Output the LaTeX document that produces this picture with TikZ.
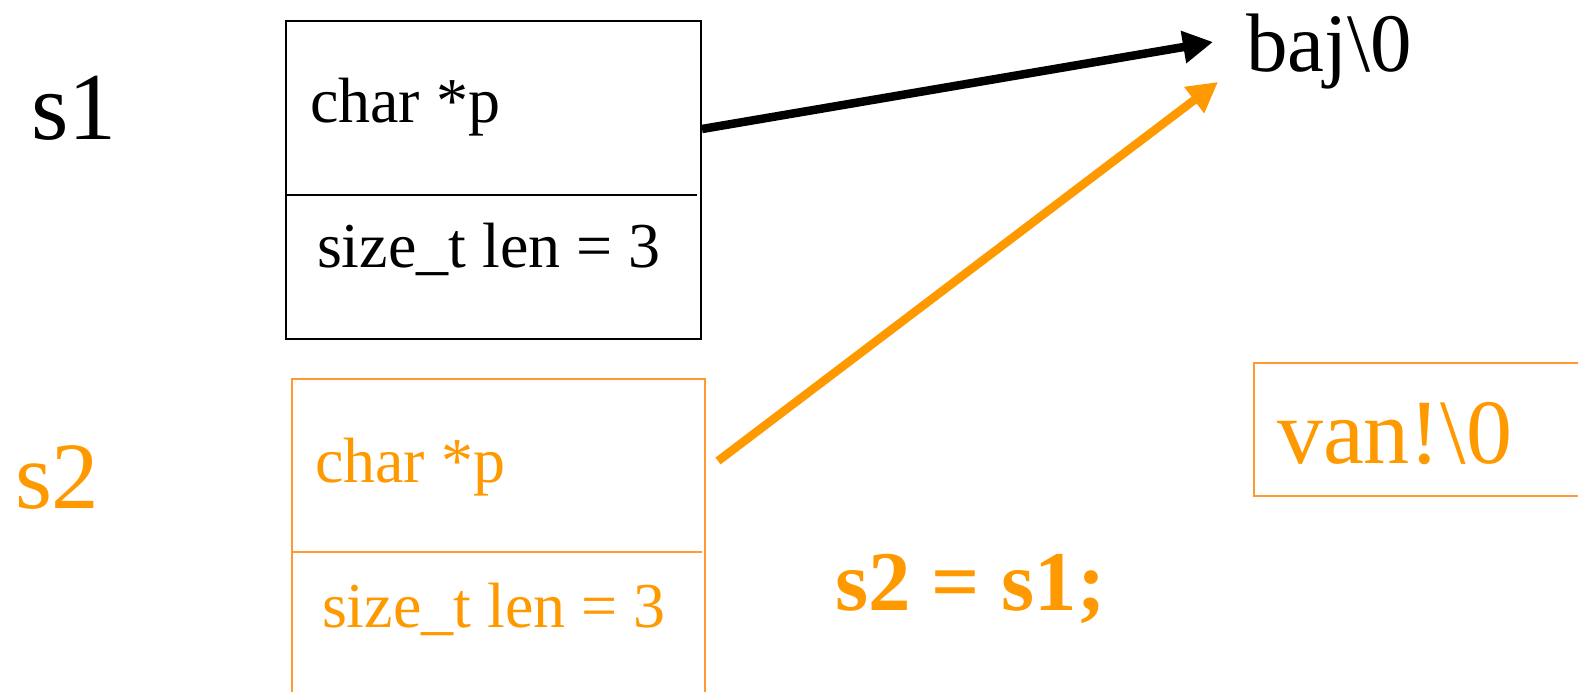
\documentclass[tikz,border=0pt]{standalone}
\usepackage{fontspec}
\setmainfont{Liberation Serif}
\usetikzlibrary{arrows.meta,calc}
\definecolor{orng}{HTML}{FF9900}
\definecolor{orngline}{HTML}{FF9933}
\begin{document}
\begin{tikzpicture}[x=1pt,y=-1pt,
  lbl/.style={anchor=base west, inner sep=0pt, outer sep=0pt},
  fieldtxt/.style={lbl, font=\fontsize{64}{70}\selectfont},
  structbox/.style={draw, line width=2pt, anchor=north west, inner sep=0pt, outer sep=0pt},
  ptr/.style={line width=8.5pt, -{Triangle[length=30pt,width=31pt]}},
]
\useasboundingbox (0,0) rectangle (1578,692);
\clip (0,0) rectangle (1578,692);
\fill[white] (0,0) rectangle (1578,692);

% struct boxes
\node[structbox, minimum width=415pt, minimum height=318pt] (box1) at (286,21) {};
\draw[line width=2pt] ($(box1.north west)+(0,174)$) -- ++(411,0);
\node[structbox, draw=orngline, minimum width=413pt, minimum height=340pt] (box2) at (292,379) {};
\draw[line width=2pt, orngline] ($(box2.north west)+(0,173)$) -- ++(410,0);
\node[structbox, draw=orngline, minimum width=340pt, minimum height=133pt] (vanbox) at (1254,363) {};

% labels
\node[lbl, font=\fontsize{96}{100}\selectfont] (s1) at (31,140) {s1};
\node[lbl, text=orng, font=\fontsize{95}{100}\selectfont] (s2) at (15,508) {s2};
\node[fieldtxt] (p1) at (310,123) {char *p};
\node[fieldtxt] (len1) at (317,268) {size\_t len = 3};
\node[fieldtxt, text=orng] (p2) at (315,482) {char *p};
\node[fieldtxt, text=orng] (len2) at (322,627) {size\_t len = 3};
\node[lbl, font=\fontsize{83}{90}\selectfont] (baj) at (1246,72) {baj\textbackslash 0};
\node[lbl, text=orng, font=\fontsize{92}{100}\selectfont] (van) at (1277,463) {van!\textbackslash 0};
\node[lbl, text=orng, font=\fontsize{85}{90}\selectfont\bfseries] (assign) at (835,610) {s2 = s1;};

% pointers
\coordinate (from1) at (702,129);
\coordinate (to1) at (1213,42);
\coordinate (from2) at (718,461);
\coordinate (to2) at (1218,82);
\draw[ptr] (from1) -- (to1);
\draw[ptr, orng] (from2) -- (to2);
\end{tikzpicture}
\end{document}
